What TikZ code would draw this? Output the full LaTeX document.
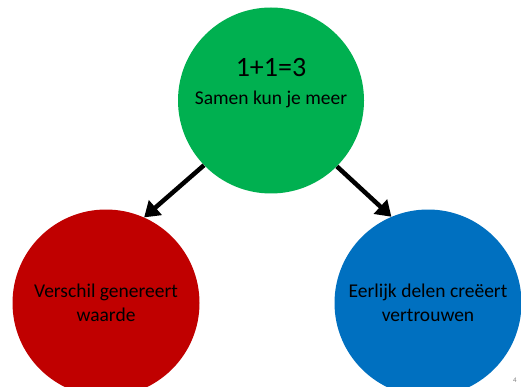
\documentclass[tikz,border=0pt]{standalone}
\usepackage{fontspec}
\setmainfont{Carlito}
\usetikzlibrary{arrows.meta}
\definecolor{cgreen}{HTML}{00B050}
\definecolor{cred}{HTML}{C00000}
\definecolor{cblue}{HTML}{0070C0}
\begin{document}
\begin{tikzpicture}[x=1pt,y=-1pt,
  blob/.style={circle,minimum size=187pt,inner sep=0pt,draw=none,align=center,
    font=\fontsize{19.5}{24}\selectfont,text=black},
  conn/.style={line width=4.5pt,-{Triangle[length=15pt,width=19pt]}},
  txt/.style={anchor=base,inner sep=0pt,text=black}]
\path[use as bounding box] (0,0) rectangle (521,387);
\clip (0,0) rectangle (521,387);
\fill[white] (0,0) rectangle (521,387);
\node[blob,fill=cgreen,minimum size=186pt] (g) at (271,100.5) {};
\node[txt,font=\fontsize{28}{32}\selectfont] (t1) at (271,77) {1+1=3};
\node[txt,font=\fontsize{19.5}{24}\selectfont] (t2) at (271,105) {Samen kun je meer};
\node[blob,fill=cred] (r) at (106,303) {Verschil genereert\\waarde};
\node[blob,fill=cblue] (b) at (428,303) {Eerlijk delen creëert\\vertrouwen};
\draw[conn] (g.224) -- (r.66);
\draw[conn] (g.315) -- (b.113);
\node[txt,text=gray,font=\fontsize{7}{8}\selectfont] (pn) at (515,382) {4};
\end{tikzpicture}
\end{document}
